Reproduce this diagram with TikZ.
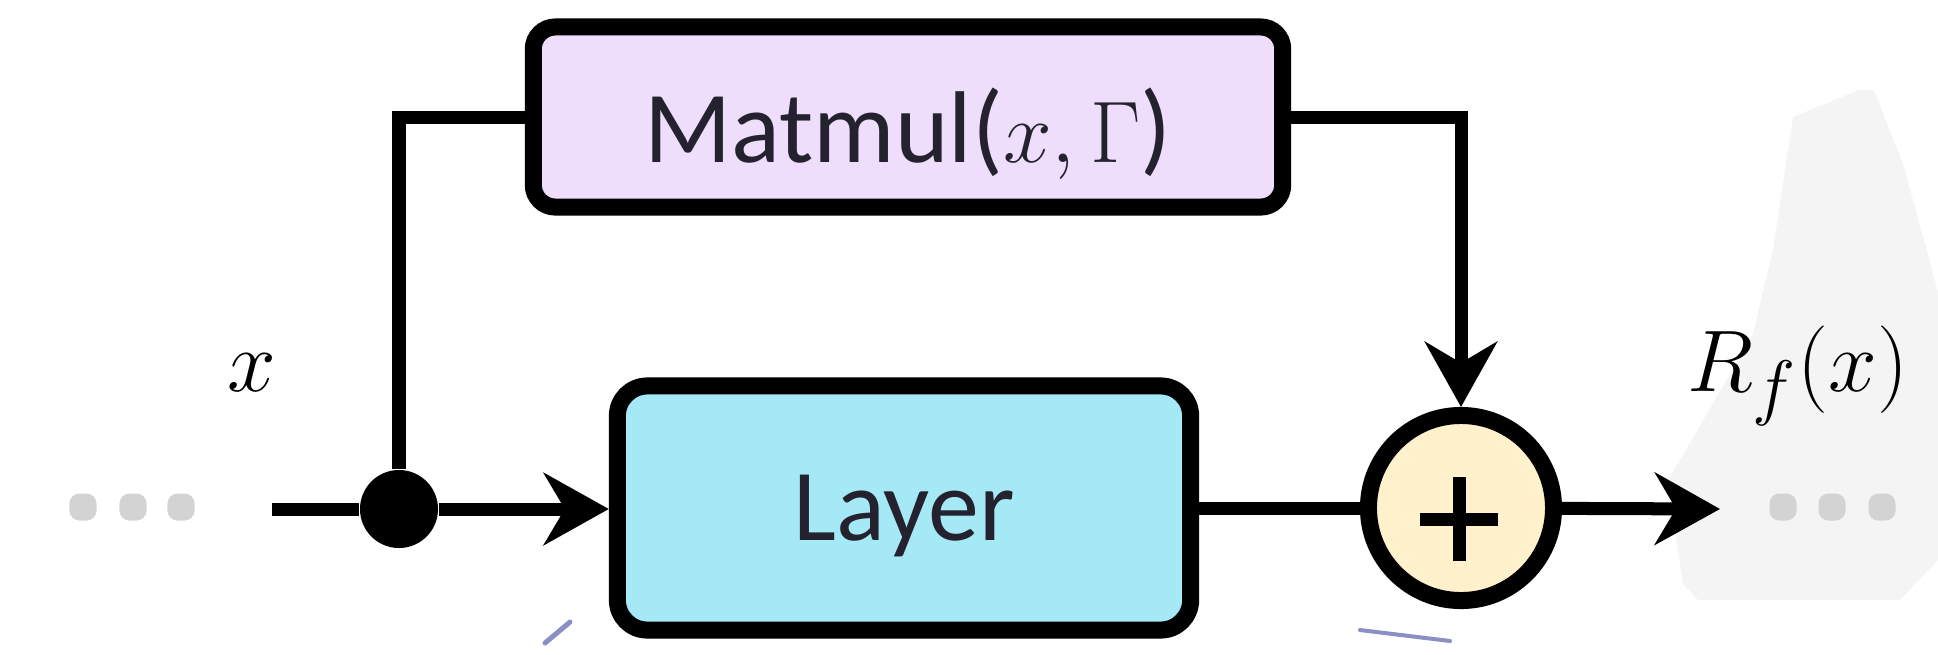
\documentclass[tikz,border=0pt]{standalone}
\usepackage{fontspec}
\setmainfont{Carlito}
\usetikzlibrary{arrows.meta}
\definecolor{purplefill}{HTML}{EEDDFB}
\definecolor{cyanfill}{HTML}{A6E9F6}
\definecolor{yellowfill}{HTML}{FFF1CC}
\definecolor{dotgray}{HTML}{D3D3D3}
\definecolor{bggray}{HTML}{F4F4F4}
\definecolor{markblue}{HTML}{8A8FC4}
\definecolor{textdark}{HTML}{25222F}
\begin{document}
\begin{tikzpicture}[x=0.01cm,y=-0.01cm,
  blockbox/.style={draw=black, line width=0.17cm, inner sep=0pt,
    font=\fontsize{29}{34}\selectfont, text=textdark, text depth=0pt},
  conn/.style={line width=0.13cm},
  arr/.style={conn, -{Stealth[length=0.65cm,width=0.72cm,inset=0.21cm]}},
  gdot/.style={fill=dotgray, rounded corners=0.1cm, minimum size=0.27cm, inner sep=0pt},
  mathlabel/.style={font=\fontsize{29}{34}\selectfont, anchor=base, inner sep=0pt},
  plusbar/.style={line width=0.13cm}
]
\fill[white] (0,0) rectangle (1938,654);
\useasboundingbox (0,0) rectangle (1938,654);
% faint background shape
\fill[bggray] (1793,117) -- (1859,90) -- (1874,90) -- (1904,167) -- (1938,292)
  -- (1938,560) -- (1900,600) -- (1698,600) -- (1683,584) -- (1668,480)
  -- (1693,438) -- (1753,334) -- (1773,250) -- cycle;
% small blue marks
\draw[markblue, line width=0.05cm, line cap=round] (545,643) -- (570,622);
\draw[markblue, line width=0.04cm, line cap=round] (1360,630) -- (1450,641);

% blocks
\node[blockbox, fill=purplefill, rounded corners=0.22cm, text height=0.90cm,
  minimum width=7.49cm, minimum height=1.80cm] (mm) at (908,117)
  {Matmul({\fontsize{24}{28}\selectfont$x,\Gamma$})};
\node[blockbox, fill=cyanfill, rounded corners=0.3cm, text height=0.64cm,
  minimum width=5.73cm, minimum height=2.44cm] (layer) at (904,508) {Layer};
\node[circle, draw=black, line width=0.17cm, fill=yellowfill, minimum size=1.85cm,
  inner sep=0pt,
  path picture={
    \draw[plusbar] ([xshift=-0.405cm,yshift=-0.11cm]path picture bounding box.center)
      -- ++(0.77cm,0);
    \draw[plusbar] ([xshift=-0.02cm,yshift=0.305cm]path picture bounding box.center)
      -- ++(0,-0.83cm);
  }] (sum) at (1461,508) {};
\node[circle, fill=black, minimum size=0.78cm, inner sep=0pt] (jn) at (399,509) {};

% dots
\node[gdot] (l1) at (83,507) {};
\node[gdot] (l2) at (133,507) {};
\node[gdot] (l3) at (181,507) {};
\node[gdot] (r1) at (1783,507) {};
\node[gdot] (r2) at (1832,507) {};
\node[gdot] (r3) at (1882,507) {};

% labels
\node[mathlabel] (xlab) at (252,391) {$x$};
\node[mathlabel] (rlab) at (1798,391) {$R_f(x)$};

% connectors
\coordinate (start) at (272,509);
\coordinate (finish) at (1720,509);
\draw[conn] (start) -- (jn);
\draw[arr] (jn) -- (jn -| layer.west);
\draw[conn] (jn) |- (mm.west);
\draw[conn] (layer.east) -- (sum);
\draw[arr] (mm.east) -| (sum.north);
\draw[arr] (sum) -- (finish);
\end{tikzpicture}
\end{document}
